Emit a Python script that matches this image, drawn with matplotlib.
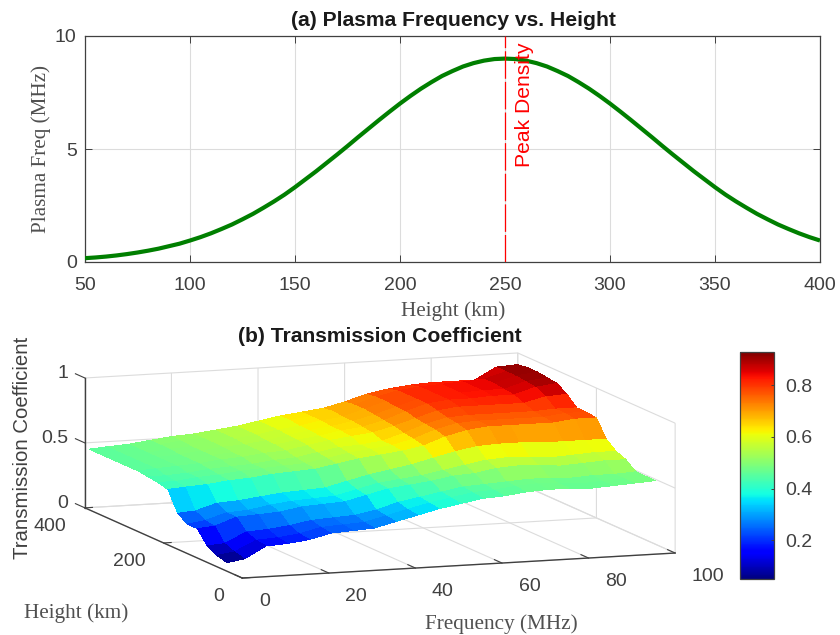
import matplotlib
matplotlib.use("Agg")
import matplotlib.pyplot as plt
import numpy as np

GRAY = '#404040'
LABEL = '#505050'
SANS = 'Liberation Sans'
SERIF = 'Liberation Serif'
plt.rcParams['font.family'] = SANS

# panel (a)
height_a = list(range(50, 405, 5))
plasma = [0.17,0.20,0.24,0.29,0.35,0.42,0.50,0.59,0.70,0.81,0.95,1.10,1.27,1.46,1.66,1.89,2.13,2.40,2.68,2.98,3.31,
          3.66,4.01,4.38,4.75,5.13,5.52,5.90,6.28,6.65,7.01,7.35,7.67,7.96,8.23,8.45,8.65,8.80,8.91,8.98,9.0,
          8.98,8.91,8.80,8.65,8.45,8.23,7.96,7.67,7.35,7.01,6.65,6.28,5.90,5.52,5.13,4.75,4.38,4.01,3.66,3.31,
          2.98,2.68,2.40,2.13,1.89,1.66,1.46,1.27,1.10,0.95]
peak_height = 250

# panel (b)
freq = [1,5,10,15,20,25,30,35,40,45,50,55,60,65,70,75,80,85,90,95,100]
height_b = [50,75,100,125,150,175,200,225,250,275,300,325,350,375,400]
trans = [
 [.05,.07,.16,.17,.19,.23,.24,.25,.29,.33,.37,.40,.43,.44,.46,.47,.47,.46,.47,.48,.49],
 [.07,.09,.17,.18,.20,.24,.25,.26,.30,.34,.38,.41,.44,.45,.47,.48,.47,.46,.47,.48,.49],
 [.11,.12,.20,.21,.23,.26,.27,.28,.31,.36,.39,.42,.45,.46,.47,.48,.48,.47,.48,.48,.49],
 [.21,.22,.28,.29,.30,.33,.34,.35,.39,.43,.45,.47,.50,.51,.54,.55,.54,.53,.54,.55,.55],
 [.21,.23,.28,.29,.32,.34,.35,.36,.40,.44,.46,.48,.51,.54,.57,.58,.57,.56,.57,.58,.58],
 [.26,.27,.32,.33,.35,.37,.38,.39,.43,.47,.50,.53,.57,.61,.64,.65,.65,.64,.64,.64,.64],
 [.41,.42,.43,.45,.46,.48,.49,.50,.53,.56,.58,.60,.63,.69,.73,.75,.75,.75,.75,.77,.77],
 [.43,.43,.45,.46,.48,.49,.50,.51,.54,.57,.59,.61,.65,.71,.75,.76,.76,.76,.76,.78,.78],
 [.44,.44,.45,.47,.48,.49,.51,.52,.55,.58,.59,.61,.66,.72,.76,.77,.77,.77,.77,.78,.78],
 [.45,.46,.47,.48,.50,.51,.53,.54,.57,.60,.62,.64,.68,.73,.78,.80,.80,.80,.80,.84,.85],
 [.45,.46,.47,.48,.50,.51,.53,.55,.58,.60,.63,.65,.69,.75,.80,.82,.82,.83,.83,.88,.90],
 [.45,.46,.47,.48,.50,.52,.53,.55,.58,.61,.63,.66,.70,.75,.80,.82,.83,.84,.84,.89,.91],
 [.45,.46,.47,.49,.50,.52,.54,.56,.59,.61,.64,.66,.71,.76,.80,.82,.83,.84,.85,.90,.92],
 [.45,.46,.47,.49,.51,.52,.54,.56,.59,.62,.64,.67,.71,.76,.80,.82,.83,.84,.85,.90,.92],
 [.45,.46,.47,.49,.51,.52,.54,.56,.59,.62,.64,.66,.70,.75,.78,.80,.81,.81,.81,.90,.91],
]
freq_ticks = [0,20,40,60,80,100]
height_ticks = [0,200,400]
z_ticks = [0,0.5,1]
z_ticklabels = ['0','0.5','1']
cbar_ticks = [0.2,0.4,0.6,0.8]
color_limits = (0.05,0.928)

W, H = 840, 635
fig = plt.figure(figsize=(W/100, H/100), dpi=100, facecolor='white')

def rect(l, t, r, b):
    return [l/W, 1-b/H, (r-l)/W, (b-t)/H]

# ---------- (a)
ax = fig.add_axes(rect(85, 36, 820, 262))
ax.plot(height_a, plasma, color='#007f00', lw=3.0, solid_capstyle='butt', zorder=3)
ax.plot([peak_height, peak_height], [0, 10], color='#ff0000', lw=0.9, dashes=(22, 2.5), zorder=4)
ax.text(peak_height+5, 4.2, 'Peak Density', color='#ff0000', rotation=90, fontsize=15.2,
        ha='left', va='bottom', zorder=5)
ax.set_xlim(50, 400)
ax.set_ylim(0, 10)
ax.set_xticks(range(50, 401, 50))
ax.set_yticks([0, 5, 10])
ax.grid(True, color='#dcdcdc', lw=0.8)
ax.set_axisbelow(True)
ax.tick_params(direction='in', length=5, width=0.7, color=GRAY, labelcolor=GRAY, labelsize=14,
               top=True, right=True)
ax.tick_params(axis='x', pad=10.5)
ax.tick_params(axis='y', pad=6)
for s in ax.spines.values():
    s.set_color(GRAY)
    s.set_linewidth(0.9)
fig.text(453/W, 1-21/H, '(a) Plasma Frequency vs. Height', fontweight='bold', fontsize=15.2,
         color='#1a1a1a', ha='center', va='center')
ax.set_xlabel('Height (km)', family=SERIF, fontsize=15.3, color=LABEL)
ax.xaxis.set_label_coords((453-85)/735, -(311-262)/226, transform=ax.transAxes)
ax.xaxis.label.set_va('center')
ax.set_ylabel('Plasma Freq (MHz)', family=SERIF, fontsize=15.2, color=LABEL)
ax.yaxis.set_label_coords((41-85)/735, (262-149)/226, transform=ax.transAxes)
ax.yaxis.label.set_va('center')

# ---------- (b)
ax3 = fig.add_axes([47.5/W, -163/H, 647.5/W, 647.5/H], projection='3d', proj_type='ortho')
ax3.patch.set_alpha(0)
ax3.view_init(elev=9.24, azim=-109.8)
ax3.set_box_aspect((1, 1.01, 0.286))
F, Hh = np.meshgrid(freq, height_b)
surf = ax3.plot_surface(F, Hh, np.array(trans), cmap='jet', vmin=color_limits[0], vmax=color_limits[1],
                        rstride=1, cstride=1, linewidth=0, antialiased=False, shade=False)
ax3.set_xlim(0, 100, view_margin=0)
ax3.set_ylim(0, 400, view_margin=0)
ax3.set_zlim(0, 1, view_margin=0)
ax3.set_xticks(freq_ticks)
ax3.set_yticks(height_ticks)
ax3.set_zticks(z_ticks)
for axis, out in ((ax3.xaxis, 0.6), (ax3.yaxis, 0.22), (ax3.zaxis, 0.75)):
    axis.set_pane_color((1, 1, 1, 0))
    axis.pane.set_edgecolor('#dcdcdc')
    axis.line.set_color(GRAY)
    axis.line.set_linewidth(1.0)
    axis._axinfo['grid'].update(color='#dcdcdc', linewidth=0.8)
    axis._axinfo['tick'].update(inward_factor=0.0, outward_factor=out)
    axis.set_tick_params(color=GRAY, width=0.8, label1On=False, label2On=False)
    axis.label.set_visible(False)
    axis.offsetText.set_visible(False)
    for tick in axis.get_major_ticks():
        tick.label1.set_visible(False)
        tick.label2.set_visible(False)
ax3.zaxis._get_tickdir = lambda position: 1
ax3.title.set_visible(False)
ax3._left_title.set_visible(False)
ax3._right_title.set_visible(False)
label_style = dict(fontsize=14, color=GRAY, va='center')
for f in freq_ticks:
    ax3.text(f, -42, -0.127, str(f), ha='left', **label_style)
for h in height_ticks:
    ax3.text(-4.2, h, -0.135, str(h), ha='right', **label_style)
for z, lab in zip(z_ticks, z_ticklabels):
    ax3.text(0, 443, z-0.025, lab, ha='right', **label_style)
fig.text(380/W, 1-337/H, '(b) Transmission Coefficient', fontweight='bold', fontsize=15.2,
         color='#1a1a1a', ha='center', va='center')
fig.text(23/W, 1-448/H, 'Transmission Coefficient', rotation=90, fontsize=14.7, color=GRAY,
         ha='center', va='center')
fig.text(76/W, 1-613/H, 'Height (km)', family=SERIF, fontsize=15.3, color=LABEL, ha='center', va='center')
fig.text(501/W, 1-624/H, 'Frequency (MHz)', family=SERIF, fontsize=15.3, color=LABEL, ha='center', va='center')

# colourbar
cax = fig.add_axes(rect(740, 352, 774, 579))
cb = fig.colorbar(surf, cax=cax, ticks=cbar_ticks)
cb.ax.tick_params(direction='in', length=2, width=0.7, color=GRAY, labelcolor=GRAY, labelsize=14, pad=8)
cb.ax.set_yticklabels(['0.2','0.4','0.6','0.8'])
cb.outline.set_edgecolor(GRAY)
cb.outline.set_linewidth(0.9)

fig.savefig('out.png', dpi=100)
